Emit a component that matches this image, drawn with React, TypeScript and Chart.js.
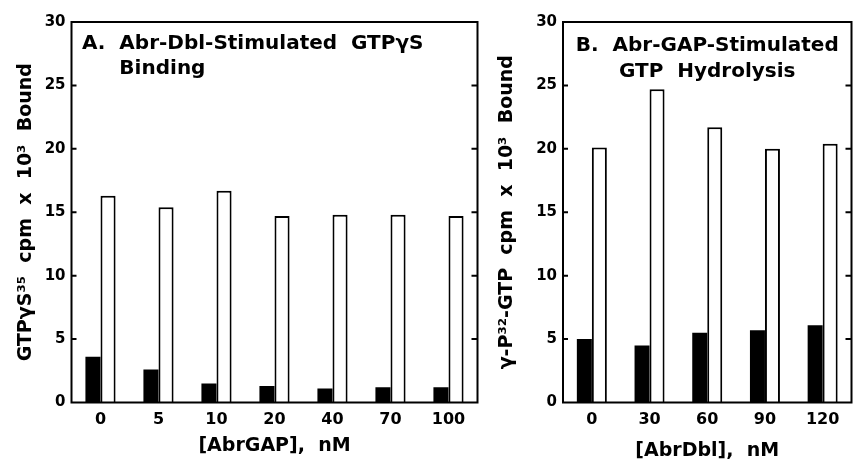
import React, { useEffect, useRef } from "react";
import { Chart, registerables } from "chart.js";

Chart.register(...registerables);

// ---- data ----
const leftCategories = ["0", "5", "10", "20", "40", "70", "100"];
const leftBasal = [3.6, 2.6, 1.5, 1.3, 1.1, 1.2, 1.2];
const leftStimulated = [16.3, 15.4, 16.7, 14.7, 14.8, 14.8, 14.7];

const rightCategories = ["0", "30", "60", "90", "120"];
const rightBasal = [5.0, 4.5, 5.5, 5.7, 6.1];
const rightStimulated = [20.1, 24.7, 21.7, 20.0, 20.4];

const yMin = 0;
const yMax = 30;
const yStep = 5;

const leftYTitle = "GTPγS³⁵  cpm  x  10³  Bound";
const rightYTitle = "γ-P³²-GTP  cpm  x  10³  Bound";
const leftXTitle = "[AbrGAP],  nM";
const rightXTitle = "[AbrDbl],  nM";
const leftPanelTitle = ["A.  Abr-Dbl-Stimulated  GTPγS", "Binding"];
const rightPanelTitle = ["B.  Abr-GAP-Stimulated", "GTP  Hydrolysis"];

const FONT = "'DejaVu Sans', 'Liberation Sans', sans-serif";

type PanelCfg = {
  categories: string[];
  basal: number[];
  stimulated: number[];
  yTitle: string;
  xTitle: string;
  panelTitle: string[];
  titleMode: "left" | "center";
  canvasWidth: number;
  yAxisWidth: number;
  padRight: number;
  yTitlePad: number;
  xTitlePad: number;
  titleBaselines: number[];
};

const CANVAS_H = 463;
const PLOT_TOP = 22;
const PLOT_BOTTOM = 402.5;

function makeFramePlugin(cfg: PanelCfg) {
  return {
    id: "frameAndTitle",
    afterDatasetsDraw(chart: any) {
      const { ctx, chartArea } = chart;
      const { left, right, top, bottom } = chartArea;
      const y = chart.scales.y;
      ctx.save();
      ctx.strokeStyle = "#000";
      ctx.lineWidth = 2;
      ctx.beginPath();
      ctx.rect(left, top, right - left, bottom - top);
      y.ticks.forEach((t: any) => {
        if (t.value > yMin && t.value < yMax) {
          const py = y.getPixelForValue(t.value);
          ctx.moveTo(left, py);
          ctx.lineTo(left + 5, py);
          ctx.moveTo(right, py);
          ctx.lineTo(right - 6, py);
        }
      });
      ctx.stroke();

      ctx.fillStyle = "#000";
      ctx.font = `bold 20px ${FONT}`;
      ctx.textBaseline = "alphabetic";
      if (cfg.titleMode === "left") {
        const x0 = left + 10.5;
        ctx.textAlign = "left";
        ctx.fillText(cfg.panelTitle[0], x0, cfg.titleBaselines[0]);
        const indent = ctx.measureText("A.  ").width;
        ctx.fillText(cfg.panelTitle[1], x0 + indent, cfg.titleBaselines[1]);
      } else {
        const cx = (left + right) / 2;
        ctx.textAlign = "center";
        ctx.fillText(cfg.panelTitle[0], cx, cfg.titleBaselines[0]);
        ctx.fillText(cfg.panelTitle[1], cx, cfg.titleBaselines[1]);
      }
      ctx.restore();
    },
  };
}

function Panel({ cfg }: { cfg: PanelCfg }) {
  const ref = useRef<HTMLCanvasElement | null>(null);
  useEffect(() => {
    if (!ref.current) return;
    const chart = new Chart(ref.current, {
      type: "bar",
      data: {
        labels: cfg.categories,
        datasets: [
          {
            label: "Basal",
            data: cfg.basal,
            backgroundColor: "#000",
            borderColor: "#000",
            borderWidth: 0,
            categoryPercentage: 0.52,
            barPercentage: 1.0,
          },
          {
            label: "Stimulated",
            data: cfg.stimulated,
            backgroundColor: "#fff",
            borderColor: "#000",
            borderWidth: 2,
            categoryPercentage: 0.52,
            barPercentage: 1.0,
          },
        ],
      },
      options: {
        responsive: false,
        animation: false,
        devicePixelRatio: 1,
        layout: {
          padding: { top: PLOT_TOP, right: cfg.padRight, left: 0, bottom: 0 },
        },
        plugins: {
          legend: { display: false },
          tooltip: { enabled: false },
          title: { display: false },
        },
        scales: {
          x: {
            type: "category",
            offset: true,
            grid: { display: false, drawTicks: false },
            border: { display: false },
            ticks: {
              color: "#000",
              padding: 8,
              maxRotation: 0,
              font: { family: FONT, size: 16, weight: "bold" },
            },
            title: {
              display: true,
              text: cfg.xTitle,
              color: "#000",
              padding: { top: 0, bottom: cfg.xTitlePad },
              font: { family: FONT, size: 19, weight: "bold" },
            },
            afterFit: (scale: any) => {
              scale.height = CANVAS_H - PLOT_BOTTOM;
            },
          },
          y: {
            min: yMin,
            max: yMax,
            grid: { display: false, drawTicks: false },
            border: { display: false },
            ticks: {
              stepSize: yStep,
              color: "#000",
              padding: 6,
              font: { family: FONT, size: 15, weight: "bold" },
            },
            title: {
              display: true,
              text: cfg.yTitle,
              color: "#000",
              padding: { top: cfg.yTitlePad, bottom: 0 },
              font: { family: FONT, size: 19, weight: "bold" },
            },
            afterFit: (scale: any) => {
              scale.width = cfg.yAxisWidth;
            },
          },
        },
      },
      plugins: [makeFramePlugin(cfg)],
    } as any);
    return () => chart.destroy();
  }, [cfg]);
  return (
    <canvas
      ref={ref}
      width={cfg.canvasWidth}
      height={CANVAS_H}
      style={{ width: cfg.canvasWidth, height: CANVAS_H, display: "block" }}
    />
  );
}

const leftCfg: PanelCfg = {
  categories: leftCategories,
  basal: leftBasal,
  stimulated: leftStimulated,
  yTitle: leftYTitle,
  xTitle: leftXTitle,
  panelTitle: leftPanelTitle,
  titleMode: "left",
  canvasWidth: 490,
  yAxisWidth: 71.5,
  padRight: 490 - 477.5,
  yTitlePad: 15,
  xTitlePad: 6,
  titleBaselines: [49, 74],
};

const rightCfg: PanelCfg = {
  categories: rightCategories,
  basal: rightBasal,
  stimulated: rightStimulated,
  yTitle: rightYTitle,
  xTitle: rightXTitle,
  panelTitle: rightPanelTitle,
  titleMode: "center",
  canvasWidth: 363,
  yAxisWidth: 73,
  padRight: 1.5,
  yTitlePad: 6,
  xTitlePad: 1,
  titleBaselines: [51, 77],
};

export default function App() {
  return (
    <div
      style={{
        position: "absolute",
        left: 0,
        top: 0,
        width: 853,
        height: CANVAS_H,
        background: "#fff",
        overflow: "hidden",
      }}
    >
      <div style={{ position: "absolute", left: 0, top: 0 }}>
        <Panel cfg={leftCfg} />
      </div>
      <div style={{ position: "absolute", left: 490, top: 0 }}>
        <Panel cfg={rightCfg} />
      </div>
    </div>
  );
}
